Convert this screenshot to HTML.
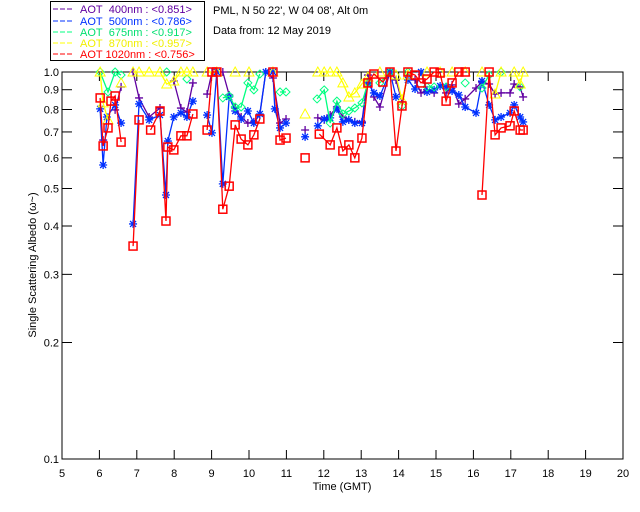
<!DOCTYPE html>
<html><head><meta charset="utf-8"><style>
html,body{margin:0;padding:0;background:#fff;width:640px;height:512px;overflow:hidden}
svg{display:block;font-family:"Liberation Sans",sans-serif}
</style></head><body>
<svg id="chart" width="640" height="512" viewBox="0 0 640 512" xmlns="http://www.w3.org/2000/svg">
<g>
<rect x="50.5" y="1.5" width="154" height="59" fill="#fff" stroke="#000" stroke-width="1"/>
<g font-size="11">
<line x1="53" y1="9" x2="73" y2="9" stroke="#6000a0" stroke-dasharray="5,2"/><text x="80" y="13" fill="#6000a0">AOT&#160;&#160;400nm : &lt;0.851&gt;</text>
<line x1="53" y1="21" x2="73" y2="21" stroke="#0030ff" stroke-dasharray="5,2"/><text x="80" y="25" fill="#0030ff">AOT&#160;&#160;500nm : &lt;0.786&gt;</text>
<line x1="53" y1="32" x2="73" y2="32" stroke="#00ff80" stroke-dasharray="5,2"/><text x="80" y="36" fill="#00e070">AOT&#160;&#160;675nm : &lt;0.917&gt;</text>
<line x1="53" y1="43" x2="73" y2="43" stroke="#ffff00" stroke-dasharray="5,2"/><text x="80" y="47" fill="#f0f000">AOT&#160;&#160;870nm : &lt;0.957&gt;</text>
<line x1="53" y1="54" x2="73" y2="54" stroke="#ff0000" stroke-dasharray="5,2"/><text x="80" y="58" fill="#ff0000">AOT 1020nm : &lt;0.756&gt;</text>
</g></g>
<text x="213" y="14" font-size="11">PML, N 50 22', W 04 08', Alt 0m</text>
<text x="213" y="34" font-size="11">Data from: 12 May 2019</text>
<text x="342" y="490" font-size="11" text-anchor="middle">Time (GMT)</text>
<text transform="translate(36,265) rotate(-90)" font-size="11" text-anchor="middle">Single Scattering Albedo (ω~)</text>
<g id="axes"></g>
<g id="marks"></g>
</svg>
<script>
const xTicks=[5,6,7,8,9,10,11,12,13,14,15,16,17,18,19,20];
const yTicks=[1.0,0.9,0.8,0.7,0.6,0.5,0.4,0.3,0.2,0.1];
const yTickLabels=["1.0","0.9","0.8","0.7","0.6","0.5","0.4","0.3","0.2","0.1"];

const t400=[6.10,6.42,6.58,6.90,7.06,7.33,7.62,7.99,8.18,8.34,8.50,8.88,9.01,9.30,9.47,9.63,9.79,9.97,10.13,10.29,10.45,10.64,10.83,10.99,11.50,11.84,12.01,12.17,12.35,12.51,12.67,12.83,13.02,13.18,13.34,13.50,13.77,13.93,14.09,14.25,14.44,14.60,14.76,14.95,15.27,15.43,15.61,15.78,16.07,16.23,16.42,16.58,16.74,16.98,17.09,17.25,17.33];
const v400=[.667,.798,.915,1,.857,.765,.807,.948,.807,.788,.937,.877,1,1,.872,.807,.765,.738,.743,.774,1,.965,.738,.756,.708,.761,.752,.774,.812,.765,.752,.743,.743,.982,.862,.812,1,.954,.837,.982,.954,.883,.899,.883,.883,.926,.827,.852,.909,.942,.931,.877,.883,.883,.931,.915,.862];

const t500=[6.02,6.10,6.20,6.42,6.58,6.90,7.06,7.33,7.62,7.78,7.83,7.99,8.18,8.34,8.50,8.88,9.01,9.14,9.30,9.47,9.63,9.79,9.97,10.13,10.29,10.45,10.64,10.69,10.83,10.99,11.50,11.84,12.01,12.17,12.35,12.51,12.67,12.83,13.02,13.18,13.34,13.50,13.77,13.93,14.25,14.44,14.60,14.76,14.95,15.11,15.27,15.43,15.61,15.78,16.07,16.23,16.42,16.58,16.74,16.98,17.09,17.25,17.33];
const v500=[.803,.575,.765,.822,.738,.405,.827,.752,.774,.481,.663,.765,.784,.765,.841,.774,.696,1,.514,.862,.793,.756,.793,.738,.779,1,1,.803,.717,.738,.680,.726,.756,.761,.803,.743,.752,.738,.738,.937,.883,.867,1,.862,.954,.904,1,.888,.899,.920,.915,.893,.872,.812,.784,.948,.822,.752,.765,.784,.822,.765,.743];

const t675=[6.02,6.23,6.42,6.58,7.80,8.34,9.30,9.47,9.63,9.79,9.97,10.13,10.29,10.83,10.99,11.82,12.01,12.17,12.35,12.51,12.67,12.83,13.02,13.18,13.50,13.77,14.09,14.25,14.76,14.95,15.27,15.78,16.23,16.42,16.74,17.25];
const v675=[1,.888,1,.982,1,.959,.857,.867,.812,.812,.937,.899,.988,.888,.888,.852,.899,.738,.841,.779,.793,.807,.832,.937,.937,1,.817,1,.915,.915,.915,.937,.909,.982,1,.915];

const t870=[6.02,6.10,6.23,6.58,6.90,7.06,7.33,7.62,7.80,7.99,8.18,8.34,8.50,8.88,9.14,9.63,10.00,10.64,11.50,11.84,12.01,12.17,12.35,12.51,12.67,12.83,13.02,13.18,13.50,13.93,14.09,14.25,14.76,15.11,15.43,15.78,16.23,16.58,16.74,17.09,17.25,17.33];
const v870=[1,.832,.752,.937,1,1,1,1,.931,.948,1,1,1,1,1,1,1,1,.779,1,1,1,1,.937,.862,.883,.931,.971,1,.982,.847,.982,1,1,1,1,1,.877,1,1,.931,1];

const t1020=[6.02,6.10,6.23,6.31,6.42,6.58,6.90,7.06,7.37,7.62,7.78,7.83,7.99,8.18,8.34,8.50,8.88,9.01,9.14,9.30,9.47,9.63,9.79,9.97,10.13,10.29,10.64,10.83,10.99,11.50,11.88,12.17,12.35,12.51,12.67,12.83,13.02,13.18,13.34,13.58,13.77,13.93,14.09,14.25,14.44,14.60,14.76,14.95,15.11,15.27,15.43,15.61,15.78,16.23,16.42,16.58,16.74,16.98,17.09,17.25,17.33];
const v1020=[.857,.644,.717,.841,.867,.659,.355,.752,.708,.793,.412,.640,.629,.684,.684,.779,.708,1,1,.442,.507,.730,.671,.648,.688,.756,1,.667,.675,.600,.691,.648,.717,.625,.648,.600,.675,.937,.988,.942,1,.625,.817,1,.982,.937,.959,1,.994,.841,.937,1,1,.481,1,.688,.717,.726,.793,.708,.708];

const X0=62,X1=623,Y0=72,Y1=459;
function xs(t){return X0+(t-5)*(X1-X0)/15;}
function ys(v){return Y0-(Y1-Y0)*Math.log10(Math.min(v,1));}
const NS="http://www.w3.org/2000/svg";
function mk(tag,attrs,parent){const e=document.createElementNS(NS,tag);for(const k in attrs)e.setAttribute(k,attrs[k]);parent.appendChild(e);return e;}
const axes=document.getElementById('axes');
const frame=mk('rect',{x:X0,y:Y0,width:X1-X0,height:Y1-Y0,fill:'none',stroke:'#000','stroke-width':1},axes);


xTicks.forEach(t=>{
  const x=xs(t);
  mk('line',{x1:x,y1:Y1,x2:x,y2:Y1-9,stroke:'#000'},axes);
  mk('line',{x1:x,y1:Y0,x2:x,y2:Y0+9,stroke:'#000'},axes);
  const tx=mk('text',{x:x,y:Y1+18,'font-size':11,'text-anchor':'middle'},axes);
  tx.textContent=String(t);
  
  
});
yTicks.forEach((v,i)=>{
  const y=ys(v);
  mk('line',{x1:X0,y1:y,x2:X0+10,y2:y,stroke:'#000'},axes);
  mk('line',{x1:X1,y1:y,x2:X1-10,y2:y,stroke:'#000'},axes);
  const tx=mk('text',{x:X0-3,y:y+4,'font-size':11,'text-anchor':'end'},axes);
  tx.textContent=yTickLabels[i];
  
  
});
const marks=document.getElementById('marks');
function marker(type,x,y,c,g){
  if(type==='plus'){mk('path',{d:`M${x-4},${y}H${x+4}M${x},${y-4}V${y+4}`,stroke:c,'stroke-width':1.3,fill:'none'},g);}
  else if(type==='star'){mk('path',{d:`M${x-4},${y}H${x+4}M${x},${y-4}V${y+4}M${x-3},${y-3}L${x+3},${y+3}M${x-3},${y+3}L${x+3},${y-3}`,stroke:c,'stroke-width':1.3,fill:'none'},g);}
  else if(type==='diamond'){mk('path',{d:`M${x},${y-4}L${x+4},${y}L${x},${y+4}L${x-4},${y}Z`,stroke:c,'stroke-width':1,fill:'none'},g);}
  else if(type==='tri'){mk('path',{d:`M${x},${y-5}L${x+5},${y+4}L${x-5},${y+4}Z`,stroke:c,'stroke-width':1,fill:'none'},g);}
  else {mk('rect',{x:x-4,y:y-4,width:8,height:8,stroke:c,'stroke-width':1.5,fill:'none'},g);}
}
function series(name,ts,vs,c,type){
  const g=mk('g',{},marks);
  
  
  let d='';
  for(let i=0;i<ts.length;i++){
    const x=xs(ts[i]),y=ys(vs[i]);
    d+=(i===0||ts[i]-ts[i-1]>0.3?'M':'L')+x.toFixed(1)+','+y.toFixed(1);
  }
  mk('path',{d:d,stroke:c,'stroke-width':1.3,fill:'none'},g);
  for(let i=0;i<ts.length;i++)marker(type,xs(ts[i]),ys(vs[i]),c,g);
}
series('series-400nm',t400,v400,'#6000a0','plus');
series('series-500nm',t500,v500,'#0030ff','star');
series('series-675nm',t675,v675,'#00ff80','diamond');
series('series-870nm',t870,v870,'#ffff00','tri');
series('series-1020nm',t1020,v1020,'#ff0000','square');
</script>
</body></html>
